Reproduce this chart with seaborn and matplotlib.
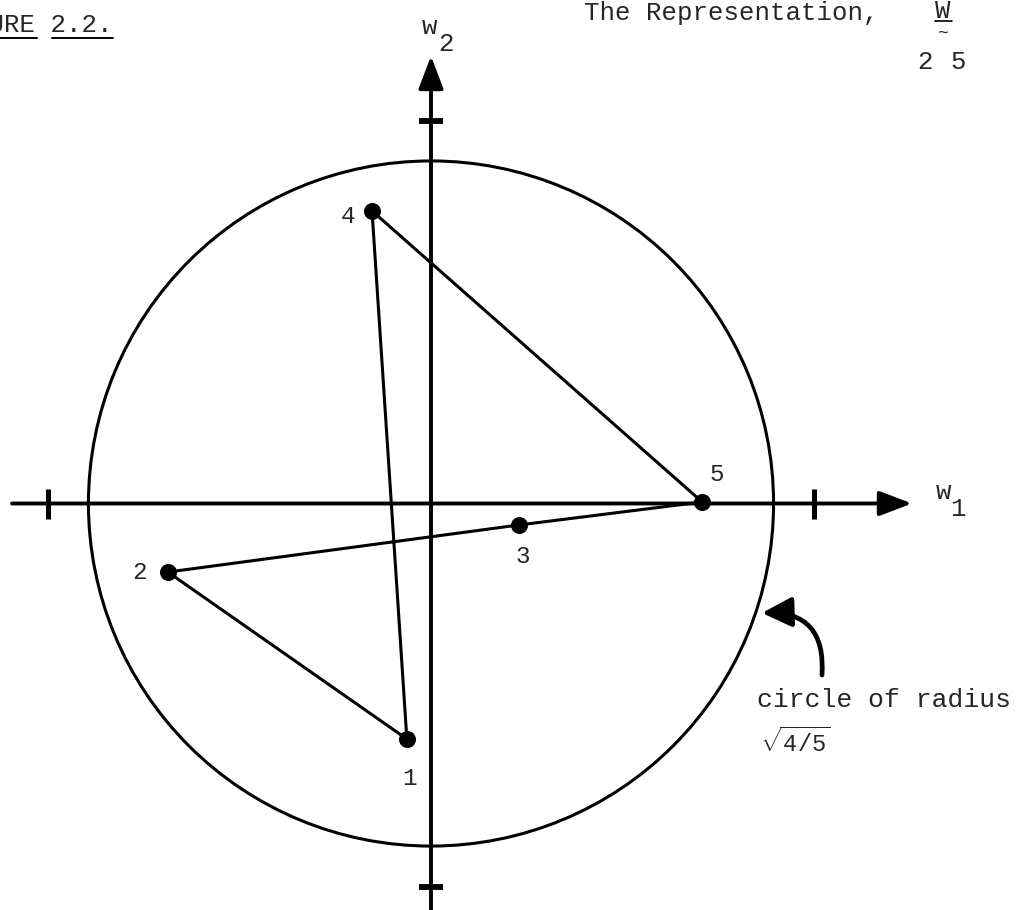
import numpy as np
import pandas as pd
import matplotlib
matplotlib.use("Agg")
import matplotlib.pyplot as plt
from matplotlib.patches import Circle
from matplotlib.lines import Line2D
import seaborn as sns

# Five points of the planar representation and the order they are joined in
point_labels = ["1", "2", "3", "4", "5"]
w1_values = [-0.063, -0.687, 0.230, -0.154, 0.708]
w2_values = [-0.615, -0.179, -0.056, 0.764, 0.004]
path_order = ["1", "4", "5", "3", "2", "1"]
tick_values = [-1.0, 1.0]
circle_radius = np.sqrt(4 / 5)

sns.set_theme(style="white")
plt.rcParams["font.family"] = ["Liberation Mono", "DejaVu Sans Mono"]
plt.rcParams["mathtext.fontset"] = "custom"
plt.rcParams["mathtext.rm"] = "Liberation Mono"
plt.rcParams["mathtext.it"] = "Liberation Mono"

W, H = 1018, 910
SCALE = 383.0          # pixels per unit
CX, CY = 431.0, 503.5  # pixel position of the origin
FS = 18.5

fig = plt.figure(figsize=(W / 100, H / 100), dpi=100)
ax = fig.add_axes([0, 0, 1, 1])
ax.set_xlim(-CX / SCALE, (W - CX) / SCALE)
ax.set_ylim((CY - H) / SCALE, CY / SCALE)
ax.axis("off")

def fx(px):
    return px / W

def fy(py):
    return 1 - py / H

pts = pd.DataFrame({"label": point_labels, "w1": w1_values, "w2": w2_values}).set_index("label")
path = pts.loc[path_order].reset_index()

# coordinate axes with arrowheads
ax_lo, ax_hi = ax.get_xlim()
ay_lo, ay_hi = ax.get_ylim()
arrow_kw = dict(arrowstyle="-|>,head_length=1.0,head_width=0.38", mutation_scale=20,
                lw=2.8, color="black", shrinkA=0, shrinkB=0)
ax.annotate("", xy=(ax_lo + 912 / SCALE, 0), xytext=(ax_lo + 12 / SCALE, 0), arrowprops=arrow_kw)
ax.annotate("", xy=(0, ay_hi - 56 / SCALE), xytext=(0, ay_lo), arrowprops=arrow_kw)

# unit ticks on both axes
ax.plot(tick_values, [0, 0], ls="none", marker="|", ms=21, mew=3.6, color="black")
ax.plot([0, 0], tick_values, ls="none", marker="_", ms=17, mew=4.2, color="black")

# reference circle
ax.add_patch(Circle((0, 0), circle_radius, fill=False, lw=2.2, ec="black"))

# polygon through the points
sns.lineplot(data=path, x="w1", y="w2", sort=False, estimator=None,
             color="black", lw=2.2, ax=ax)
sns.scatterplot(data=pts.reset_index(), x="w1", y="w2", s=150, color="black",
                edgecolor="black", linewidth=0, ax=ax, zorder=5)
ax.set_xlabel("")
ax.set_ylabel("")

label_offsets = {"1": (3, -39), "2": (-28, 0), "3": (4, -32), "4": (-24, -6), "5": (15, 27)}
for lab, (ox, oy) in label_offsets.items():
    ax.annotate(lab, xy=(pts.loc[lab, "w1"], pts.loc[lab, "w2"]), xytext=(ox, oy),
                textcoords="offset pixels", ha="center", va="center", fontsize=17.5)

# axis names
fig.text(fx(429), fy(27), "w", fontsize=FS, ha="center", va="center")
fig.text(fx(446), fy(44), "2", fontsize=FS, ha="center", va="center")
fig.text(fx(943), fy(492), "w", fontsize=FS, ha="center", va="center")
fig.text(fx(958), fy(509), "1", fontsize=FS, ha="center", va="center")

# heading
fig.text(fx(112), fy(32), "FIGURE 2.2.", fontsize=FS, ha="right", va="baseline")
for x0, x1 in [(-60, 37), (52, 113)]:
    fig.add_artist(Line2D([fx(x0), fx(x1)], [fy(38), fy(38)], color="black", lw=1.4))
fig.text(fx(584), fy(20), "The Representation,", fontsize=FS, ha="left", va="baseline")
fig.text(fx(943), fy(18), "W", fontsize=FS, ha="center", va="baseline")
fig.add_artist(Line2D([fx(935), fx(952)], [fy(21), fy(21)], color="black", lw=1.2))
fig.text(fx(943), fy(33), "~", fontsize=13, ha="center", va="center")
fig.text(fx(925), fy(62), "2", fontsize=FS, ha="center", va="center")
fig.text(fx(958), fy(62), "5", fontsize=FS, ha="center", va="center")

# note on the circle
ax.annotate("", xy=(ax_lo + 762 / SCALE, ay_hi - 613 / SCALE),
            xytext=(ax_lo + 822 / SCALE, ay_hi - 675 / SCALE),
            arrowprops=dict(arrowstyle="-|>,head_length=0.9,head_width=0.45", mutation_scale=20,
                            lw=3.4, color="black", shrinkA=0, shrinkB=0,
                            connectionstyle="arc3,rad=0.55"))
fig.text(fx(757), fy(707), "circle of radius", fontsize=19, ha="left", va="baseline")
fig.text(fx(795), fy(742), r"$\sqrt{4/5}$", fontsize=17, ha="center", va="center")

fig.savefig("out.png", dpi=100, facecolor="white")
